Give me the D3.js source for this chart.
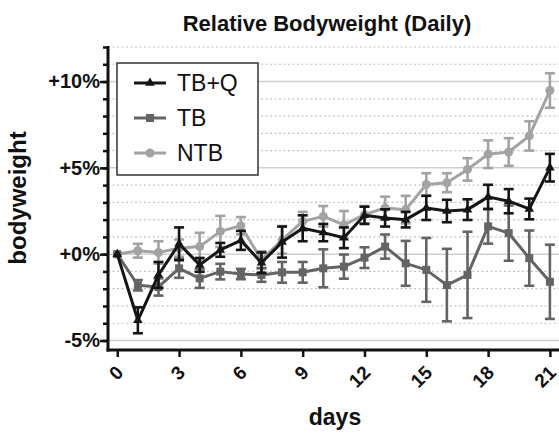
<!DOCTYPE html>
<html>
<head>
<meta charset="utf-8">
<script src="https://cdn.jsdelivr.net/npm/d3@7/dist/d3.min.js"></script>
<style>
  html, body { margin: 0; padding: 0; background: #fff; }
  svg { display: block; font-family: "Liberation Sans", Arial, sans-serif; }
</style>
</head>
<body>
<svg id="chart" width="559" height="435"></svg>
<script>
const days = [0,1,2,3,4,5,6,7,8,9,10,11,12,13,14,15,16,17,18,19,20,21];
const tbq    = [0,-3.83,-1.2,0.6,-0.62,0.25,0.8,-0.5,0.7,1.5,1.25,0.95,2.25,2.1,2.0,2.68,2.5,2.58,3.32,3.07,2.62,5.01];
const tbqErr = [0,0.75,0.75,0.95,0.4,0.4,0.55,0.6,0.9,0.75,0.5,0.6,0.5,0.5,0.45,0.7,0.65,0.6,0.7,0.7,0.6,0.8];
const tb     = [0,-1.8,-1.9,-0.82,-1.4,-1.01,-1.15,-1.2,-1.05,-1.05,-0.82,-0.72,-0.2,0.44,-0.53,-0.91,-1.79,-1.2,1.61,1.22,-0.23,-1.6];
const tbErr  = [0,0.3,0.5,0.55,0.55,0.45,0.3,0.4,0.6,0.6,1.1,0.7,0.6,0.7,1.3,1.85,2.1,2.5,1.0,1.6,1.6,2.15];
const ntb    = [0,0.2,0.1,0.35,0.44,1.32,1.65,-0.33,0.83,1.9,2.19,1.7,2.29,2.68,2.58,4.04,4.14,4.91,5.79,5.92,6.85,9.48];
const ntbErr = [0,0.4,0.65,0.5,0.8,0.9,0.5,0.5,0.8,0.55,0.6,0.8,0.5,0.65,0.8,0.65,0.55,0.65,0.8,0.8,0.85,1.0];

const seriesNames = ["TB+Q", "TB", "NTB"];
const xTicks = [0,3,6,9,12,15,18,21];
const yMajorTicks = [-5,0,5,10];
const yMajorLabels = ["-5%","+0%","+5%","+10%"];
const yMinorTicks = [-5,-4,-3,-2,-1,0,1,2,3,4,5,6,7,8,9,10,11,12];

const title = "Relative Bodyweight (Daily)";
const xLabel = "days";
const yLabel = "bodyweight";

const series = [
  {name: "NTB",  vals: ntb, err: ntbErr, color: "#a3a3a3", sym: d3.symbolCircle, size: 64},
  {name: "TB",   vals: tb,  err: tbErr,  color: "#646464", sym: d3.symbolSquare, size: 64},
  {name: "TB+Q", vals: tbq, err: tbqErr, color: "#151515", sym: d3.symbolTriangle, size: 40}
];

const svg = d3.select("#chart");
const plotLeft = 108, plotTop = 47, plotBottom = 350;
const x = d3.scaleLinear().domain([-0.45, 21.5]).range([plotLeft, 560.2]);
const y = d3.scaleLinear().domain([-5.55, 12]).range([plotBottom, plotTop]);

// grid
const grid = svg.append("g");
yMinorTicks.forEach(v => {
  const major = yMajorTicks.includes(v);
  grid.append("line")
    .attr("x1", plotLeft).attr("x2", 559)
    .attr("y1", y(v)).attr("y2", y(v))
    .attr("stroke", major ? "#cfcfcf" : "#c4c4c4")
    .attr("stroke-width", major ? 1.5 : 1.2)
    .attr("stroke-dasharray", major ? null : "2,2.5");
});

// series
const plot = svg.append("g");
series.forEach(s => {
  const g = plot.append("g");
  days.forEach((d, i) => {
    if (s.err[i] <= 0) return;
    const cx = x(d), y1 = y(s.vals[i] + s.err[i]), y2 = y(s.vals[i] - s.err[i]);
    g.append("line").attr("x1", cx).attr("x2", cx).attr("y1", y1).attr("y2", y2)
      .attr("stroke", s.color).attr("stroke-width", 2.6);
    [y1, y2].forEach(yy => g.append("line")
      .attr("x1", cx - 5).attr("x2", cx + 5).attr("y1", yy).attr("y2", yy)
      .attr("stroke", s.color).attr("stroke-width", 2.6));
  });
  const line = d3.line().x((d) => x(d)).y((d, i) => y(s.vals[i]));
  g.append("path").attr("d", line(days)).attr("fill", "none")
    .attr("stroke", s.color).attr("stroke-width", 3).attr("stroke-linejoin", "round");
  days.forEach((d, i) => {
    g.append("path").attr("d", d3.symbol().type(s.sym).size(s.size)())
      .attr("transform", `translate(${x(d)},${y(s.vals[i])})`)
      .attr("fill", s.color);
  });
});

// y axis
const yAxisMinor = d3.axisLeft(y).tickValues(yMinorTicks).tickSize(5).tickFormat("");
const yAx = svg.append("g").attr("transform", `translate(${plotLeft},0)`);
yAx.call(yAxisMinor);
const yAxisMajor = d3.axisLeft(y).tickValues(yMajorTicks).tickSize(8).tickPadding(0)
  .tickFormat((d, i) => yMajorLabels[i]);
const yAx2 = svg.append("g").attr("transform", `translate(${plotLeft},0)`).call(yAxisMajor);
[yAx, yAx2].forEach(a => {
  a.select(".domain").remove();
  a.selectAll(".tick line").attr("stroke", "#111").attr("stroke-width", 2.5);
});
yAx2.selectAll(".tick text").attr("font-size", 20).attr("font-weight", "bold").attr("fill", "#111")
  .attr("font-family", '"Liberation Sans", Arial, sans-serif');
svg.append("line").attr("x1", plotLeft).attr("x2", plotLeft).attr("y1", plotTop - 1).attr("y2", plotBottom + 1.5)
  .attr("stroke", "#111").attr("stroke-width", 3);

// x axis
const xAxis = d3.axisBottom(x).tickValues(xTicks).tickSize(7).tickFormat(d3.format("d"));
const xAx = svg.append("g").attr("transform", `translate(0,${plotBottom})`).call(xAxis);
xAx.select(".domain").remove();
xAx.selectAll(".tick line").attr("stroke", "#111").attr("stroke-width", 2.5);
xAx.selectAll(".tick text")
  .attr("font-size", 19).attr("font-weight", "bold").attr("fill", "#111")
  .attr("font-family", '"Liberation Sans", Arial, sans-serif')
  .attr("text-anchor", "end")
  .attr("dy", "0.35em")
  .attr("transform", "translate(2,19) rotate(-45)")
  .attr("y", 0).attr("x", 0);
svg.append("line").attr("x1", plotLeft - 1.5).attr("x2", 559).attr("y1", plotBottom).attr("y2", plotBottom)
  .attr("stroke", "#111").attr("stroke-width", 3);

// legend
const lg = svg.append("g");
lg.append("rect").attr("x", 117).attr("y", 63).attr("width", 141).attr("height", 112)
  .attr("fill", "#fff").attr("stroke", "#333").attr("stroke-width", 1.5);
seriesNames.forEach((n, i) => {
  const s = series.find(t => t.name === n);
  const ly = 83 + i * 35;
  lg.append("line").attr("x1", 134).attr("x2", 166).attr("y1", ly).attr("y2", ly)
    .attr("stroke", s.color).attr("stroke-width", 3);
  lg.append("path").attr("d", d3.symbol().type(s.sym).size(s.size)())
    .attr("transform", `translate(150,${ly})`).attr("fill", s.color);
  lg.append("text").attr("x", 177).attr("y", ly).attr("dy", "0.36em")
    .attr("font-size", 23).attr("fill", "#111").text(n);
});

// titles
svg.append("text").attr("x", 327).attr("y", 31).attr("text-anchor", "middle")
  .attr("font-size", 22).attr("font-weight", "bold").attr("fill", "#111").text(title);
svg.append("text").attr("x", 335).attr("y", 425).attr("text-anchor", "middle")
  .attr("font-size", 23).attr("font-weight", "bold").attr("fill", "#111").text(xLabel);
svg.append("text").attr("transform", "translate(26,198) rotate(-90)").attr("text-anchor", "middle")
  .attr("font-size", 24).attr("font-weight", "bold").attr("fill", "#111").text(yLabel);
</script>
</body>
</html>
